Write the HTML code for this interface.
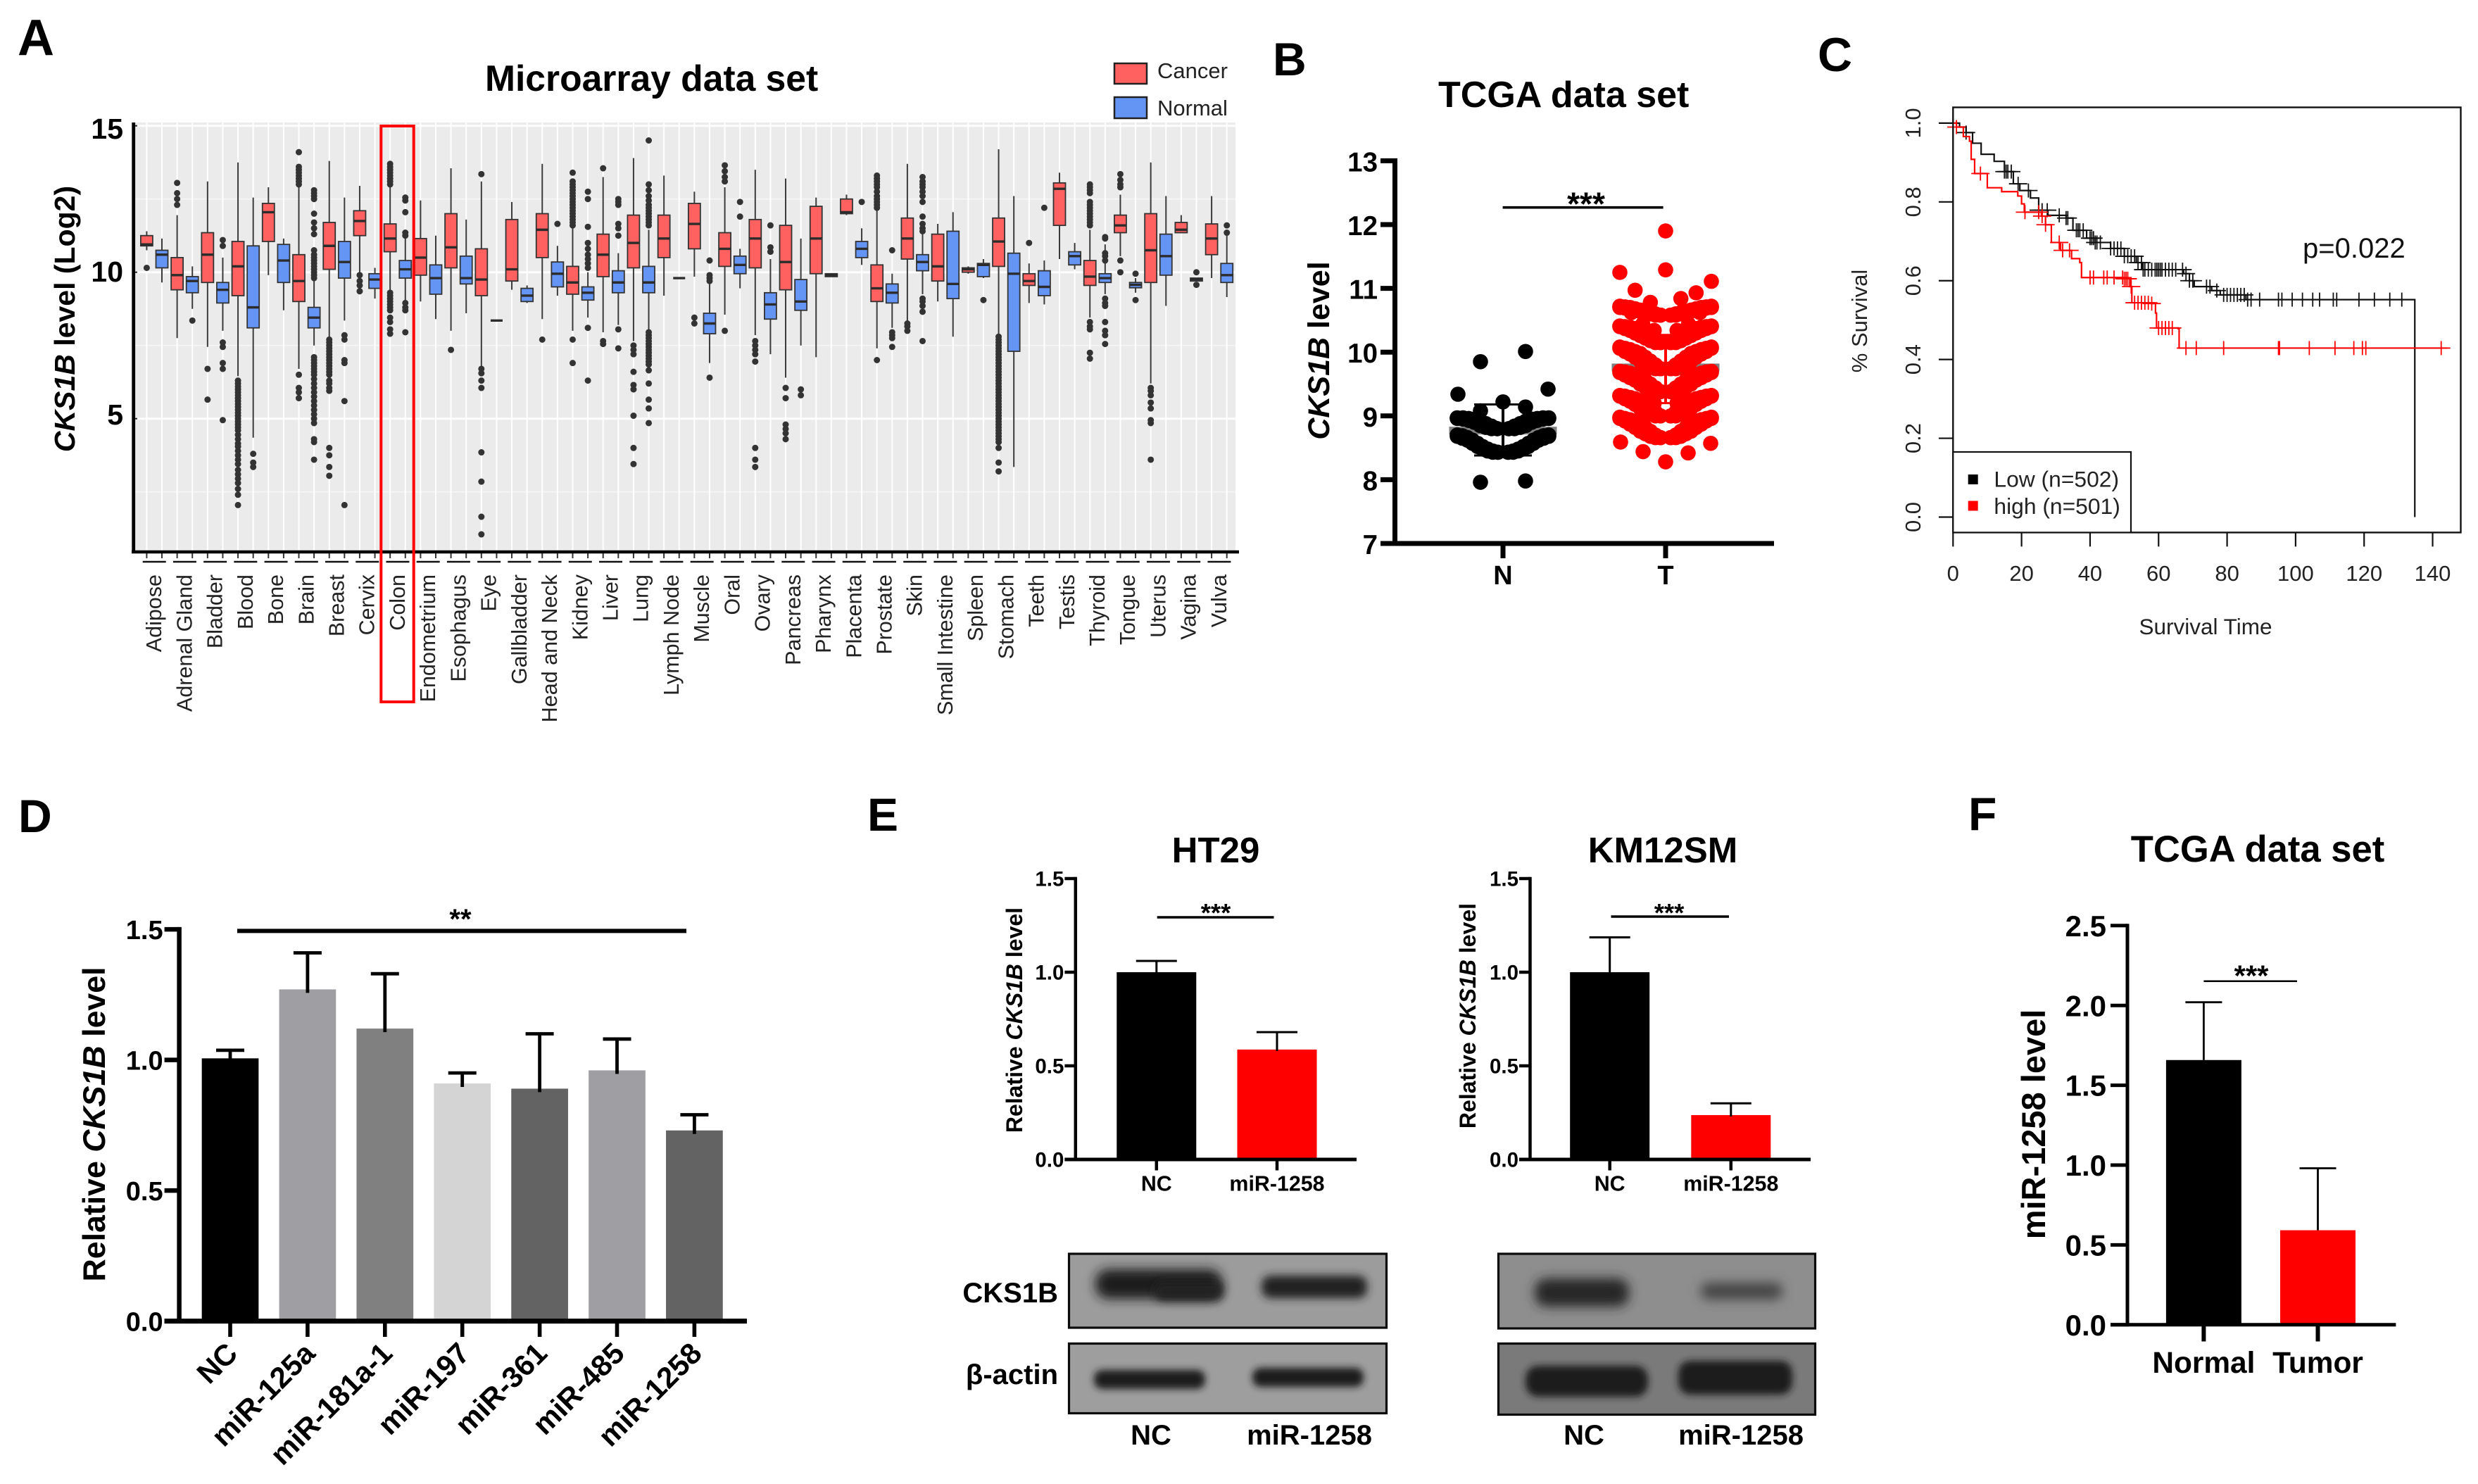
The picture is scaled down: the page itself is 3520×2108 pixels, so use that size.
<!DOCTYPE html>
<html lang="en">
<head>
<meta charset="utf-8">
<title>CKS1B expression figure</title>
<style>
html,body{margin:0;padding:0;background:#fff}
svg{display:block}
text{font-family:"Liberation Sans",Arial,sans-serif}
</style>
</head>
<body>
<svg id="fig" xmlns="http://www.w3.org/2000/svg" width="3520" height="2108" viewBox="0 0 3520 2108">
<defs>
<filter id="blur6" x="-30%" y="-80%" width="160%" height="260%"><feGaussianBlur stdDeviation="6"/></filter>
<filter id="blur8" x="-30%" y="-80%" width="160%" height="260%"><feGaussianBlur stdDeviation="8"/></filter>
<filter id="blur4" x="-30%" y="-80%" width="160%" height="260%"><feGaussianBlur stdDeviation="5"/></filter>
</defs>
<rect x="0" y="0" width="3520" height="2108" fill="#fff"/>

<g id="panelA">
<text x="25" y="78" font-size="72" font-weight="bold">A</text>
<text x="689" y="129" font-size="51.6" font-weight="bold">Microarray data set</text>
<text transform="translate(106,453) rotate(-90)" text-anchor="middle" font-size="41" font-weight="bold"><tspan font-style="italic">CKS1B</tspan> level (Log2)</text>
<rect x="1583" y="90" width="46" height="29" fill="#ff6060" stroke="#222" stroke-width="2.5"/>
<text x="1644" y="111" font-size="31" fill="#222">Cancer</text>
<rect x="1583" y="138" width="46" height="30" fill="#6495f5" stroke="#222" stroke-width="2.5"/>
<text x="1644" y="164" font-size="31" fill="#222">Normal</text>
</g>

<g id="panelB">
<text x="1808" y="107" font-size="66" font-weight="bold">B</text>
<text x="2043" y="152" font-size="52" font-weight="bold">TCGA data set</text>
<text transform="translate(1888,498) rotate(-90)" text-anchor="middle" font-size="43" font-weight="bold"><tspan font-style="italic">CKS1B</tspan> level</text>
</g>

<g id="panelC">
<text x="2582" y="101" font-size="68" font-weight="bold">C</text>
<text x="3133" y="901" font-size="31.5" text-anchor="middle" fill="#222">Survival Time</text>
<text transform="translate(2652,456) rotate(-90)" text-anchor="middle" font-size="31" fill="#222">% Survival</text>
<text x="3271" y="366" font-size="40" fill="#111">p=0.022</text>
</g>

<g id="panelD">
<text x="26" y="1182" font-size="66" font-weight="bold">D</text>
<text transform="translate(149,1597) rotate(-90)" text-anchor="middle" font-size="44.7" font-weight="bold">Relative <tspan font-style="italic">CKS1B</tspan> level</text>
</g>

<g id="panelE">
<text x="1232" y="1180" font-size="66" font-weight="bold">E</text>
<text x="1727" y="1225" font-size="51" font-weight="bold" text-anchor="middle">HT29</text>
<text x="2362" y="1225" font-size="51" font-weight="bold" text-anchor="middle">KM12SM</text>
<text transform="translate(1452,1449) rotate(-90)" text-anchor="middle" font-size="32" font-weight="bold">Relative <tspan font-style="italic">CKS1B</tspan> level</text>
<text transform="translate(2096,1443) rotate(-90)" text-anchor="middle" font-size="32" font-weight="bold">Relative <tspan font-style="italic">CKS1B</tspan> level</text>

<g>
<rect x="1518.5" y="1781" width="451" height="105" fill="#9c9c9c" stroke="#0a0a0a" stroke-width="3.2"/>
<rect x="1556" y="1803" width="180" height="42" rx="18" fill="#1f1f1f" filter="url(#blur8)"/>
<rect x="1640" y="1820" width="98" height="28" rx="12" fill="#242424" filter="url(#blur6)"/>
<rect x="1792" y="1812" width="150" height="32" rx="13" fill="#232323" filter="url(#blur6)"/>
</g>
<g>
<rect x="1518.5" y="1908.5" width="451" height="99" fill="#9e9e9e" stroke="#0a0a0a" stroke-width="3.2"/>
<rect x="1554" y="1946" width="158" height="27" rx="12" fill="#1f1f1f" filter="url(#blur4)"/>
<rect x="1779" y="1943" width="158" height="27" rx="12" fill="#1f1f1f" filter="url(#blur4)"/>
</g>
<g>
<rect x="2128.5" y="1781" width="450" height="106" fill="#8e8e8e" stroke="#0a0a0a" stroke-width="3.2"/>
<rect x="2180" y="1816" width="134" height="40" rx="17" fill="#252525" filter="url(#blur8)"/>
<rect x="2416" y="1822" width="116" height="24" rx="11" fill="#444" filter="url(#blur8)"/>
</g>
<g>
<rect x="2128.5" y="1908.5" width="450" height="101" fill="#7a7a7a" stroke="#0a0a0a" stroke-width="3.2"/>
<rect x="2167" y="1940" width="174" height="44" rx="18" fill="#1c1c1c" filter="url(#blur4)"/>
<rect x="2384" y="1933" width="162" height="48" rx="17" fill="#1c1c1c" filter="url(#blur4)"/>
</g>
<text x="1503" y="1850" font-size="40" font-weight="bold" text-anchor="end">CKS1B</text>
<text x="1503" y="1966" font-size="40" font-weight="bold" text-anchor="end">β-actin</text>
<text x="1635" y="2052" font-size="40" font-weight="bold" text-anchor="middle">NC</text>
<text x="1860" y="2052" font-size="40" font-weight="bold" text-anchor="middle">miR-1258</text>
<text x="2250" y="2052" font-size="40" font-weight="bold" text-anchor="middle">NC</text>
<text x="2473" y="2052" font-size="40" font-weight="bold" text-anchor="middle">miR-1258</text>
</g>

<g id="panelF">
<text x="2796" y="1179" font-size="66" font-weight="bold">F</text>
<text x="3207" y="1224" font-size="52.6" font-weight="bold" text-anchor="middle">TCGA data set</text>
<text transform="translate(2905,1597) rotate(-90)" text-anchor="middle" font-size="47" font-weight="bold">miR-1258 level</text>
</g>
</svg>

<script>
/* ---------- Panel A data ---------- */
const boxCategories = ["Adipose","Adrenal Gland","Bladder","Blood","Bone","Brain","Breast","Cervix","Colon","Endometrium","Esophagus","Eye","Gallbladder","Head and Neck","Kidney","Liver","Lung","Lymph Node","Muscle","Oral","Ovary","Pancreas","Pharynx","Placenta","Prostate","Skin","Small Intestine","Spleen","Stomach","Teeth","Testis","Thyroid","Tongue","Uterus","Vagina","Vulva"];
const boxYTicks = [5,10,15];
const boxMinorTicks = [2.5,7.5,12.5];
const cancerQ1 = [10.9,9.4,9.65,9.2,11.05,9.0,10.1,11.25,10.7,9.9,10.15,9.2,9.7,10.5,9.25,9.85,10.15,10.5,10.8,10.2,10.15,9.4,9.95,12.0,9.0,10.45,9.7,10.0,10.2,9.55,11.6,9.55,11.35,9.65,11.35,10.6];
const cancerMedian = [10.95,9.9,10.6,10.2,12.05,9.7,10.9,11.75,11.15,10.5,10.85,9.75,10.1,11.45,9.65,10.6,11.0,11.15,11.65,10.8,11.15,10.35,11.15,12.05,9.45,11.15,10.2,10.1,11.05,9.7,12.85,9.85,11.6,10.75,11.45,11.15];
const cancerQ3 = [11.25,10.5,11.35,11.05,12.35,10.6,11.7,12.1,11.65,11.15,12.0,10.8,11.8,12.0,10.2,11.3,11.95,11.95,12.35,11.35,11.8,11.6,12.25,12.5,10.25,11.85,11.3,10.15,11.85,9.95,13.05,10.4,11.95,12.0,11.7,11.65];
const cancerWhiskerLow = [10.75,7.75,7.45,6.45,9.9,6.7,7.75,9.95,9.35,9.0,8.0,6.75,9.4,8.4,8.0,7.95,7.65,9.2,9.85,8.55,7.85,6.4,7.1,11.95,7.4,8.3,9.0,9.95,7.85,8.95,10.45,8.45,10.55,6.2,11.35,9.8];
const cancerWhiskerHigh = [11.4,11.95,13.1,13.75,12.9,12.9,13.8,12.95,12.95,12.45,13.55,13.1,12.4,13.7,11.5,13.25,13.9,13.3,12.75,12.9,13.5,13.2,12.55,12.65,12.1,13.7,11.65,10.2,14.2,10.3,13.4,11.45,12.65,13.75,11.95,12.6];
const normalQ1 = [10.15,9.3,8.95,8.1,9.65,8.1,9.8,9.45,9.8,9.25,9.6,8.35,9.0,9.5,9.05,9.3,9.3,9.8,7.9,9.95,8.4,8.7,9.85,10.5,8.95,10.05,9.1,9.85,7.3,9.2,10.25,9.65,9.47,9.9,9.7,9.65];
const normalMedian = [10.6,9.7,9.4,8.8,10.4,8.45,10.35,9.75,10.1,9.8,9.8,8.35,9.2,9.95,9.3,9.65,9.65,9.8,8.25,10.25,8.9,9.0,9.9,10.8,9.3,10.35,9.6,10.25,9.95,9.5,10.55,9.8,9.57,10.55,9.76,9.9];
const normalQ3 = [10.75,9.85,9.65,10.9,10.95,8.8,11.05,9.95,10.4,10.25,10.55,8.35,9.45,10.35,9.5,10.05,10.2,9.8,8.6,10.55,9.3,9.75,9.95,11.05,9.6,10.6,11.4,10.3,10.65,10.05,10.7,9.95,9.65,11.3,9.8,10.3];
const normalWhiskerLow = [9.65,8.75,8.0,4.35,8.7,7.5,8.35,9.1,9.0,8.4,8.6,8.35,8.95,9.2,8.45,8.2,8.0,9.8,6.9,9.45,7.2,7.5,9.85,10.25,8.1,9.25,7.8,9.8,3.35,8.9,10.1,9.25,9.3,8.85,9.7,9.15];
const normalWhiskerHigh = [11.15,10.2,10.5,12.55,11.15,9.7,12.55,10.15,11.2,11.25,11.8,8.35,9.55,10.9,10.0,10.65,11.45,9.8,9.65,10.8,10.45,11.15,9.95,11.5,9.95,11.3,12.05,10.45,12.6,10.4,11.0,10.95,9.8,12.6,9.8,11.25];
const cancerOutliers = [
[10.15],
[13.05,12.7,12.5,12.3],
[6.7,5.65],
[6.3,6.2,6.1,6.0,5.9,5.8,5.7,5.6,5.5,5.4,5.3,5.2,5.1,5.0,4.9,4.8,4.7,4.6,4.45,4.3,4.15,4.05,3.9,3.75,3.6,3.45,3.25,3.1,2.95,2.8,2.6,2.4,2.05],
[],
[14.1,13.6,13.5,13.4,13.3,13.2,13.1,13.0,6.5,6.05,5.9,5.7],
[7.7,7.6,7.5,7.4,7.3,7.2,7.1,7.0,6.9,6.8,6.7,6.6,6.5,6.3,6.2,6.05,5.95,4.0,3.75,3.35,3.05],
[9.9,9.7,9.55,9.35],
[13.7,13.6,13.5,13.4,13.3,13.2,13.1,13.0,9.3,9.2,9.1,9.0,8.9,8.8,8.7,8.45,8.3,8.05,7.9],
[],
[7.35],
[13.35,6.7,6.55,6.3,6.05,3.85,2.85,1.65,1.05],
[],
[7.7],
[13.4,13.1,13.0,12.9,12.8,12.7,12.6,12.5,12.4,12.3,12.2,12.1,12.0,11.9,11.8,11.7,11.6,7.7,6.9],
[13.55,7.65,7.55],
[7.5,7.35,7.2,6.6,6.15,6.0,5.1,4.0,3.45],
[],
[8.45,8.25],
[13.65,13.45,13.25,13.1,8.0],
[7.65,7.5,7.35,7.2,6.95,4.0,3.6,3.35],
[6.05,5.7,4.8,4.65,4.5,4.3],
[],
[],
[13.3,13.2,13.1,13.0,12.9,12.75,12.6,12.5,12.4,12.3,12.2,7.0],
[8.25,8.15,8.0],
[],
[],
[7.8,7.7,7.6,7.5,7.4,7.3,7.2,7.1,7.0,6.9,6.8,6.7,6.6,6.5,6.4,6.3,6.2,6.1,6.0,5.9,5.8,5.7,5.6,5.5,5.4,5.3,5.2,5.1,5.0,4.9,4.8,4.7,4.6,4.5,4.4,4.3,4.2,4.0,3.5,3.2],
[11.0],
[],
[13.0,12.9,12.8,12.7,12.4,12.3,12.2,12.1,12.0,11.9,11.8,11.7,11.6,8.3,8.15,8.05,7.25,7.05],
[13.35,13.15,13.0,12.9,10.4,10.0],
[6.05,5.95,5.8,5.55,5.35,4.95,4.85,3.6],
[],
[]
];
const normalOutliers = [
[],
[8.35],
[11.1,10.9,7.6,7.45,6.9,6.7,4.95],
[3.8,3.5,3.35],
[],
[12.8,12.7,12.6,12.5,12.0,11.7,11.5,11.3,10.75,10.6,10.5,10.4,10.3,10.2,10.1,10.0,9.9,9.8,7.1,7.0,6.9,6.8,6.7,6.6,6.5,6.35,6.2,6.05,5.9,5.75,5.6,5.45,5.3,5.15,5.0,4.85,4.3,4.2,3.6],
[7.85,7.7,7.0,6.9,5.6,2.05],
[],
[12.55,12.45,12.05,11.35,11.25,8.95,8.8,8.7,7.95],
[],
[],
[],
[],
[11.65],
[12.75,12.5,11.55,11.0,10.8,10.6,10.45,10.3,10.15,8.1,6.3],
[12.5,12.4,12.3,11.65,11.5,11.25,8.05,7.4],
[14.5,13.0,12.8,12.6,12.45,12.3,12.2,12.1,12.0,11.9,11.8,11.7,11.6,7.95,7.85,7.75,7.65,7.55,7.45,7.35,7.25,7.15,7.05,6.95,6.85,6.65,6.2,5.65,5.35,4.85],
[],
[10.4,9.9,9.8,9.7,6.4],
[12.4,11.9],
[11.6,10.85,10.7],
[6.0,5.8],
[],
[12.4],
[10.75,7.95,7.85,7.75,7.45],
[13.25,13.1,13.0,12.9,12.75,12.6,12.4,11.9,11.65,11.5,11.4,9.1,9.0,8.85,8.65,7.65],
[],
[9.05],
[],
[12.2],
[],
[11.2,11.15,10.65,10.55,10.4,9.1,8.95,8.85,8.3,8.0,7.85,7.55],
[9.95,9.05],
[],
[10.0,9.57],
[11.6,11.35]
];

/* ---------- Panel B data ---------- */
const scatterCategories = ["N","T"];
const scatterYTicks = [7,8,9,10,11,12,13];
const scatterMeans = [8.77,9.76];
const scatterSdLow = [8.38,9.2];
const scatterSdHigh = [9.18,10.27];
const normalDotRows = [
[9.85,10.01,9.34,9.42],
[9.22,9.08,9.14],
[8.8,8.8,8.84,8.84,8.88,8.88,8.92,8.92,8.95,8.95,8.96,8.96,8.97,8.97,8.97,8.97],
[8.8,8.8,8.8,8.8,8.82,8.82,8.85,8.85,8.9,8.9,8.93,8.93,8.95,8.95,8.96,8.96],
[8.43,8.43,8.45,8.45,8.48,8.48,8.52,8.52,8.57,8.57,8.62,8.62,8.66,8.66,8.69,8.69,8.7,8.7],
[8.43,8.43,8.43,8.43,8.45,8.45,8.48,8.48,8.52,8.52,8.57,8.57,8.62,8.62,8.65,8.65,8.68,8.68],
[7.96,7.98]
];
const tumorDotRows = [
[11.9],
[11.29],
[10.78,10.84,10.97,10.93,11.25,11.11],
[10.58,10.58,10.6,10.6,10.62,10.62,10.64,10.64,10.66,10.66,10.68,10.68,10.7,10.7,10.71,10.71,10.72,10.72],
[10.58,10.58,10.58,10.58,10.6,10.6,10.62,10.62,10.64,10.64,10.66,10.66,10.67,10.67,10.69,10.69,10.71,10.71],
[10.34,10.34,10.44,10.44,10.62,10.62,10.7,10.7],
[10.15,10.15,10.2,10.2,10.25,10.25,10.3,10.3,10.34,10.34,10.37,10.37,10.39,10.39,10.4,10.4,10.41,10.41],
[10.15,10.15,10.15,10.15,10.18,10.18,10.22,10.22,10.26,10.26,10.3,10.3,10.34,10.34,10.37,10.37,10.4,10.4],
[9.74,9.74,9.8,9.8,9.86,9.86,9.92,9.92,9.98,9.98,10.01,10.01,10.04,10.04,10.06,10.06,10.08,10.08],
[9.74,9.74,9.74,9.74,9.76,9.76,9.8,9.8,9.86,9.86,9.92,9.92,9.97,9.97,10.01,10.01,10.06,10.06],
[9.38,9.38,9.44,9.44,9.5,9.5,9.56,9.56,9.62,9.62,9.65,9.65,9.67,9.67,9.69,9.69,9.7,9.7],
[9.38,9.38,9.38,9.38,9.4,9.4,9.45,9.45,9.5,9.5,9.56,9.56,9.6,9.6,9.64,9.64,9.68,9.68],
[9.2,9.2,9.18,9.18,9.28,9.28,9.32,9.32],
[9.0,9.0,9.06,9.06,9.12,9.12,9.18,9.18,9.24,9.24,9.27,9.27,9.29,9.29,9.31,9.31,9.32,9.32],
[9.0,9.0,9.0,9.0,9.03,9.03,9.07,9.07,9.12,9.12,9.18,9.18,9.23,9.23,9.27,9.27,9.31,9.31],
[8.66,8.66,8.7,8.7,8.76,8.76,8.82,8.82,8.88,8.88,8.92,8.92,8.94,8.94,8.96,8.96,8.98,8.98],
[8.66,8.66,8.66,8.66,8.68,8.68,8.72,8.72,8.76,8.76,8.82,8.82,8.87,8.87,8.92,8.92,8.96,8.96],
[8.28,8.44,8.42,8.59,8.57]
];

/* ---------- Panel C data ---------- */
const survivalXTicks = [0,20,40,60,80,100,120,140];
const survivalYTicks = ["0.0","0.2","0.4","0.6","0.8","1.0"];
const lowTime = [0,1.9,3.8,5.7,8.2,12,15,17.6,19.5,22.6,25,27.7,33,35,39,41.5,46,50,53.5,55.3,67.3,69,70.4,75.5,78,85.5,134.8];
const lowSurvival = [1,0.99,0.976,0.949,0.921,0.903,0.877,0.846,0.829,0.81,0.779,0.766,0.759,0.728,0.708,0.697,0.682,0.662,0.646,0.628,0.618,0.6,0.585,0.575,0.564,0.552,0];
const highTime = [0,1,3,4.8,5.3,6.3,10,14.2,18.9,20,20.8,25.8,27,28.7,31.4,34.6,37,37.5,49.7,51.6,52.2,57.9,59.1,59.4,65.7,66,144.3];
const highSurvival = [1,0.99,0.966,0.954,0.908,0.872,0.836,0.826,0.815,0.795,0.774,0.764,0.742,0.697,0.677,0.656,0.646,0.608,0.605,0.585,0.544,0.542,0.518,0.48,0.478,0.429,0.429];
const lowCensor = [3.8,15,15.5,16,17,19,22,25,26,27.5,31,33,33.5,36,36.5,37,38,40,40.5,41,41.5,42,43,46,47,48,49,50,51,52,53,54,55,55.5,56,57,58,59,59.5,60,60.5,61,62,63,64,65,67,68,69,70,74,75,77,79,80,81,82,83,84,85,86,87,89.5,95,96,99,102,105,107,111,112,118.5,123,127.5,131];
const highCensor = [1,8,21,25,26,27,31,32,34,40,41,44,45,47,49.5,50,50.5,51,52,53,54,55,56,57,58,60,61,62,63,64,68,71,79,95,95.3,104,111.5,117,119.5,120.5,142.5];
const survivalLegend = ["Low (n=502)","high (n=501)"];

/* ---------- Panels D, E, F data ---------- */
const dCategories = ["NC","miR-125a","miR-181a-1","miR-197","miR-361","miR-485","miR-1258"];
const dValues = [1.006,1.27,1.12,0.91,0.89,0.96,0.73];
const dErrorTops = [1.037,1.41,1.33,0.95,1.10,1.08,0.79];
const dFills = ["#000","#9f9fa3","#808080","#d4d4d4","#636363","#9f9fa3","#636363"];
const dTicks = ["0.0","0.5","1.0","1.5"];
const e1Categories = ["NC","miR-1258"];
const e1Values = [1.0,0.587];
const e1ErrorTops = [1.06,0.68];
const e2Categories = ["NC","miR-1258"];
const e2Values = [1.0,0.237];
const e2ErrorTops = [1.186,0.30];
const eFills = ["#000","#f00"];
const eTicks = ["0.0","0.5","1.0","1.5"];
const fCategories = ["Normal","Tumor"];
const fValues = [1.658,0.592];
const fErrorTops = [2.02,0.98];
const fFills = ["#000","#f00"];
const fTicks = ["0.0","0.5","1.0","1.5","2.0","2.5"];

/* ---------- helpers ---------- */
const NS = "http://www.w3.org/2000/svg";
function mark(parent, tag, attrs, name, text) {
  const el = document.createElementNS(NS, tag);
  for (const k in attrs) el.setAttribute(k, attrs[k]);
  
  
  if (text !== undefined) el.textContent = text;
  parent.appendChild(el);
  return el;
}
function line(p, x1, y1, x2, y2, color, w, name) {
  return mark(p, "line", {x1:x1, y1:y1, x2:x2, y2:y2, stroke:color, "stroke-width":w}, name);
}
function stars(p, x, yc, size, s, name) {
  return mark(p, "text", {x:x, y:yc + 0.58*size, "font-size":size, "text-anchor":"middle", "font-weight":"bold"}, name, s);
}

/* ---------- Panel A ---------- */
(function () {
  const g = document.getElementById("panelA");
  const yA = v => 386.7 - (v - 10) * 41.6;
  const yLabel = v => 400 - (v - 10) * 40.6;
  const slotX = i => 208.4 + i * 21.61;
  mark(g, "rect", {x:190, y:174, width:1565, height:610, fill:"#ebebeb"}, "plot-background");
  boxYTicks.forEach(t => {
    const gl = line(g, 191, yA(t), 1755, yA(t), "#fff", 3, "major-gridline");
    gl.setAttribute("opacity", "0.95");
  });
  boxMinorTicks.forEach(t => {
    line(g, 191, yA(t), 1755, yA(t), "#f6f6f6", 1.6, "minor-gridline");
  });
  for (let i = 0; i < boxCategories.length * 2; i++) {
    line(g, slotX(i), 174, slotX(i), 784, "#fff", 2, "vertical-gridline");
  }
  const drawBox = (cat, slot, fill, q1, med, q3, lo, hi, outs, label) => {
    const b = mark(g, "g", {}, "box-" + boxCategories[cat].toLowerCase().replace(/ /g, "-") + "-" + label);
    const x = slotX(slot);
    line(b, x, yA(hi), x, yA(lo), "#3a3a3a", 2, "whisker");
    const top = yA(q3), bot = yA(q1);
    if (bot - top > 1) {
      mark(b, "rect", {x:x-8.5, y:top, width:17, height:bot-top, fill:fill, stroke:"#333", "stroke-width":1.8}, "box");
    }
    line(b, x-8.5, yA(med), x+8.5, yA(med), "#2c2c2c", 3.4, "median");
    outs.forEach(v => {
      mark(b, "circle", {cx:x, cy:yA(v), r:4.5, fill:"#333"}, "outlier");
    });
  };
  boxCategories.forEach((c, i) => {
    drawBox(i, 2*i, "#ff6060", cancerQ1[i], cancerMedian[i], cancerQ3[i], cancerWhiskerLow[i], cancerWhiskerHigh[i], cancerOutliers[i], "cancer");
    drawBox(i, 2*i+1, "#6495f5", normalQ1[i], normalMedian[i], normalQ3[i], normalWhiskerLow[i], normalWhiskerHigh[i], normalOutliers[i], "normal");
    const mid = slotX(2*i) + 10.8;
    line(g, mid-16.5, 798, mid+16.5, 798, "#111", 2.6, "category-bracket");
    line(g, slotX(2*i), 784, slotX(2*i), 793, "#333", 2, "x-tick");
    line(g, slotX(2*i+1), 784, slotX(2*i+1), 793, "#333", 2, "x-tick");
    mark(g, "text", {transform:"translate(" + (mid+10) + ",816) rotate(-90)", "font-size":30.5, "text-anchor":"end", fill:"#222"}, "x-label", c);
  });
  line(g, 189.7, 174, 189.7, 786, "#000", 4.8, "y-axis-line");
  line(g, 187, 784, 1760, 784, "#000", 4.5, "x-axis-line");
  boxYTicks.forEach(t => {
    line(g, 192, yA(t), 195, yA(t), "#222", 2, "y-tick");
    mark(g, "text", {x:175, y:yLabel(t), "font-size":41, "font-weight":"bold", "text-anchor":"end"}, "y-tick-label", String(t));
  });
  mark(g, "rect", {x:541.3, y:179, width:46.4, height:818, fill:"none", stroke:"#f00", "stroke-width":4}, "colon-highlight-box");
})();

/* ---------- Panel B ---------- */
(function () {
  const g = document.getElementById("panelB");
  const yB = v => 772 - (v - 7) * 90.6;
  const xB = [2135, 2366];
  const cols = ["#000", "#f00"];
  const rows = [normalDotRows, tumorDotRows];
  scatterCategories.forEach((c, k) => {
    mark(g, "rect", {x:xB[k]-76.5, y:yB(scatterMeans[k])-5.5, width:153, height:11, fill:"#808080"}, "mean-bar-" + c);
    rows[k].forEach(row => {
      const n = row.length;
      const step = n <= 5 ? 32 : 65 / Math.ceil(n/2);
      row.forEach((v, i) => {
        let off;
        if (n % 2) { off = i === 0 ? 0 : (i % 2 ? -1 : 1) * Math.ceil(i/2) * step; }
        else { off = (i % 2 ? 1 : -1) * (Math.floor(i/2) + 1) * step; }
        mark(g, "circle", {cx:xB[k]+off, cy:yB(v), r:10.8, fill:cols[k]}, "point-" + c);
      });
    });
    const ec = k === 0 ? "#000" : "#f00";
    line(g, xB[k]-41, yB(scatterSdHigh[k]), xB[k]+41, yB(scatterSdHigh[k]), ec, 3, "sd-cap-upper");
    line(g, xB[k]-41, yB(scatterSdLow[k]), xB[k]+41, yB(scatterSdLow[k]), ec, 3, "sd-cap-lower");
    line(g, xB[k], yB(scatterSdLow[k]), xB[k], yB(scatterSdHigh[k]), ec, 4, "sd-stem");
    line(g, xB[k], 772, xB[k], 793, "#000", 7, "x-tick");
    mark(g, "text", {x:xB[k], y:830, "font-size":38, "font-weight":"bold", "text-anchor":"middle"}, "x-label", c);
  });
  scatterYTicks.forEach(t => {
    line(g, 1961, yB(t), 1985, yB(t), "#000", 7, "y-tick");
    mark(g, "text", {x:1957, y:yB(t)+15, "font-size":38.5, "font-weight":"bold", "text-anchor":"end"}, "y-tick-label", String(t));
  });
  line(g, 1981.5, 225, 1981.5, 775, "#000", 7, "y-axis-line");
  line(g, 1961, 772, 2520, 772, "#000", 7, "x-axis-line");
  line(g, 2134.6, 294.7, 2362.6, 294.7, "#000", 3.6, "significance-line");
  stars(g, 2253, 279, 46, "***", "significance-stars");
})();

/* ---------- Panel C ---------- */
(function () {
  const g = document.getElementById("panelC");
  const xC = t => 2774.3 + t * 4.866;
  const yC = s => 734.5 - s * 559.6;
  const stepAt = (ts, ss, t) => { let v = ss[0]; ts.forEach((x, i) => { if (x <= t) v = ss[i]; }); return v; };
  const stepPath = (ts, ss) => {
    let d = "M" + xC(ts[0]) + " " + yC(ss[0]);
    ts.forEach((t, i) => { d += " H" + xC(t) + " V" + yC(ss[i]); });
    return d;
  };
  const drawCurve = (ts, ss, cens, color, name) => {
    const c = mark(g, "g", {}, name);
    mark(c, "path", {d:stepPath(ts, ss), fill:"none", stroke:color, "stroke-width":2.2}, "survival-step-line");
    cens.forEach(t => {
      const x = xC(t), y = yC(stepAt(ts, ss, t));
      line(c, x, y-10, x, y+10, color, 1.8, "censor-tick");
      line(c, x-13, y, x+13, y, color, 1.8, "censor-tick");
    });
  };
  drawCurve(lowTime, lowSurvival, lowCensor, "#111", "survival-curve-low");
  drawCurve(highTime, highSurvival, highCensor, "#f00", "survival-curve-high");
  mark(g, "rect", {x:2774.3, y:152.5, width:721.2, height:603.9, fill:"none", stroke:"#111", "stroke-width":2.4}, "plot-frame");
  survivalXTicks.forEach(t => {
    line(g, xC(t), 756.4, xC(t), 776.4, "#111", 2.2, "x-tick");
    mark(g, "text", {x:xC(t), y:825, "font-size":31, "text-anchor":"middle", fill:"#222"}, "x-tick-label", String(t));
  });
  survivalYTicks.forEach(t => {
    const y = yC(parseFloat(t));
    line(g, 2754, y, 2774.3, y, "#111", 2.2, "y-tick");
    mark(g, "text", {transform:"translate(2728," + y + ") rotate(-90)", "font-size":31, "text-anchor":"middle", fill:"#222"}, "y-tick-label", t);
  });
  mark(g, "rect", {x:2774.3, y:642, width:252.7, height:114.4, fill:"#fff", stroke:"#111", "stroke-width":2.2}, "legend-box");
  mark(g, "rect", {x:2795.7, y:674, width:14, height:14, fill:"#000"}, "legend-swatch-low");
  mark(g, "rect", {x:2795.7, y:711.5, width:14, height:14, fill:"#f00"}, "legend-swatch-high");
  survivalLegend.forEach((s, i) => {
    mark(g, "text", {x:2832.4, y:691.5 + i*38.5, "font-size":31.8, fill:"#222"}, "legend-label", s);
  });
})();

/* ---------- Bar charts D / E / F ---------- */
function barChart(g, o) {
  const y = v => o.y0 - v * o.unit;
  const x = i => o.x0 + i * o.step;
  o.values.forEach((v, i) => {
    const b = mark(g, "g", {}, o.name + "-bar-group-" + o.cats[i]);
    mark(b, "rect", {x:x(i)-o.barW/2, y:y(v), width:o.barW, height:o.y0-y(v), fill:o.fills[i]}, "bar");
    line(b, x(i), y(v)+o.stemExtra, x(i), y(o.errs[i]), "#000", o.errW, "error-stem");
    line(b, x(i)-o.capW/2, y(o.errs[i]), x(i)+o.capW/2, y(o.errs[i]), "#000", o.errW, "error-cap");
    line(g, x(i), o.y0, x(i), o.tickEnd, "#000", o.tickW, "x-tick");
    if (o.rotate) {
      mark(g, "text", {transform:"translate(" + (x(i)+13) + "," + o.labelY + ") rotate(-45)", "font-size":o.xFont, "font-weight":"bold", "text-anchor":"end"}, "x-label", o.cats[i]);
    } else {
      mark(g, "text", {x:x(i), y:o.labelY, "font-size":o.xFont, "font-weight":"bold", "text-anchor":"middle"}, "x-label", o.cats[i]);
    }
  });
  o.ticks.forEach(t => {
    const yy = y(parseFloat(t));
    line(g, o.axisX0, yy, o.axisX, yy, "#000", o.axisW, "y-tick");
    mark(g, "text", {x:o.axisX0-o.labelGap, y:yy+o.yFont*0.36, "font-size":o.yFont, "font-weight":"bold", "text-anchor":"end"}, "y-tick-label", t);
  });
  line(g, o.axisX, y(parseFloat(o.ticks[o.ticks.length-1]))-o.axisW/2, o.axisX, o.y0+o.axisW/2, "#000", o.axisW, "y-axis-line");
  line(g, o.axisX0, o.y0, o.axisEnd, o.y0, "#000", o.xAxisW, "x-axis-line");
}
barChart(document.getElementById("panelD"), {
  name:"d", cats:dCategories, values:dValues, errs:dErrorTops, fills:dFills, ticks:dTicks,
  y0:1876.6, unit:371, x0:327, step:109.9, barW:80.7, capW:40, errW:4.8, stemExtra:5,
  tickEnd:1899, tickW:5.6, axisX0:233.6, axisX:254.6, axisEnd:1061, axisW:6.5, xAxisW:7,
  labelGap:2, yFont:38, xFont:42, labelY:1925, rotate:true
});
barChart(document.getElementById("panelE"), {
  name:"ht29", cats:e1Categories, values:e1Values, errs:e1ErrorTops, fills:eFills, ticks:eTicks,
  y0:1647, unit:266, x0:1642.8, step:171.2, barW:113, capW:58, errW:3, stemExtra:2,
  tickEnd:1662.5, tickW:4.5, axisX0:1512.4, axisX:1527.8, axisEnd:1927, axisW:4.5, xAxisW:5,
  labelGap:1, yFont:29.5, xFont:30.4, labelY:1691.5, rotate:false
});
barChart(document.getElementById("panelE"), {
  name:"km12sm", cats:e2Categories, values:e2Values, errs:e2ErrorTops, fills:eFills, ticks:eTicks,
  y0:1647, unit:266, x0:2286.7, step:172.1, barW:113, capW:58, errW:3, stemExtra:2,
  tickEnd:1662.5, tickW:4.5, axisX0:2158, axisX:2173.5, axisEnd:2572, axisW:4.5, xAxisW:5,
  labelGap:1, yFont:29.5, xFont:30.4, labelY:1691.5, rotate:false
});
barChart(document.getElementById("panelF"), {
  name:"f", cats:fCategories, values:fValues, errs:fErrorTops, fills:fFills, ticks:fTicks,
  y0:1881.8, unit:226.8, x0:3130.4, step:162.1, barW:107, capW:52, errW:2.8, stemExtra:0,
  tickEnd:1905.5, tickW:6, axisX0:2998, axisX:3022, axisEnd:3403.4, axisW:5, xAxisW:5,
  labelGap:6, yFont:42, xFont:42.4, labelY:1950, rotate:false
});
(function () {
  const d = document.getElementById("panelD");
  line(d, 337, 1322.4, 975, 1322.4, "#000", 6, "significance-line");
  stars(d, 654, 1296, 40, "**", "significance-stars");
  const e = document.getElementById("panelE");
  line(e, 1643.7, 1303, 1809.5, 1303, "#000", 3.4, "significance-line-ht29");
  stars(e, 1727, 1288, 36.5, "***", "significance-stars-ht29");
  line(e, 2288.5, 1302, 2456, 1302, "#000", 3.4, "significance-line-km12sm");
  stars(e, 2371, 1288, 36.5, "***", "significance-stars-km12sm");
  const f = document.getElementById("panelF");
  line(f, 3130.4, 1393.8, 3263, 1393.8, "#000", 2.5, "significance-line");
  stars(f, 3198, 1376, 42, "***", "significance-stars");
})();
</script>
</body>
</html>
